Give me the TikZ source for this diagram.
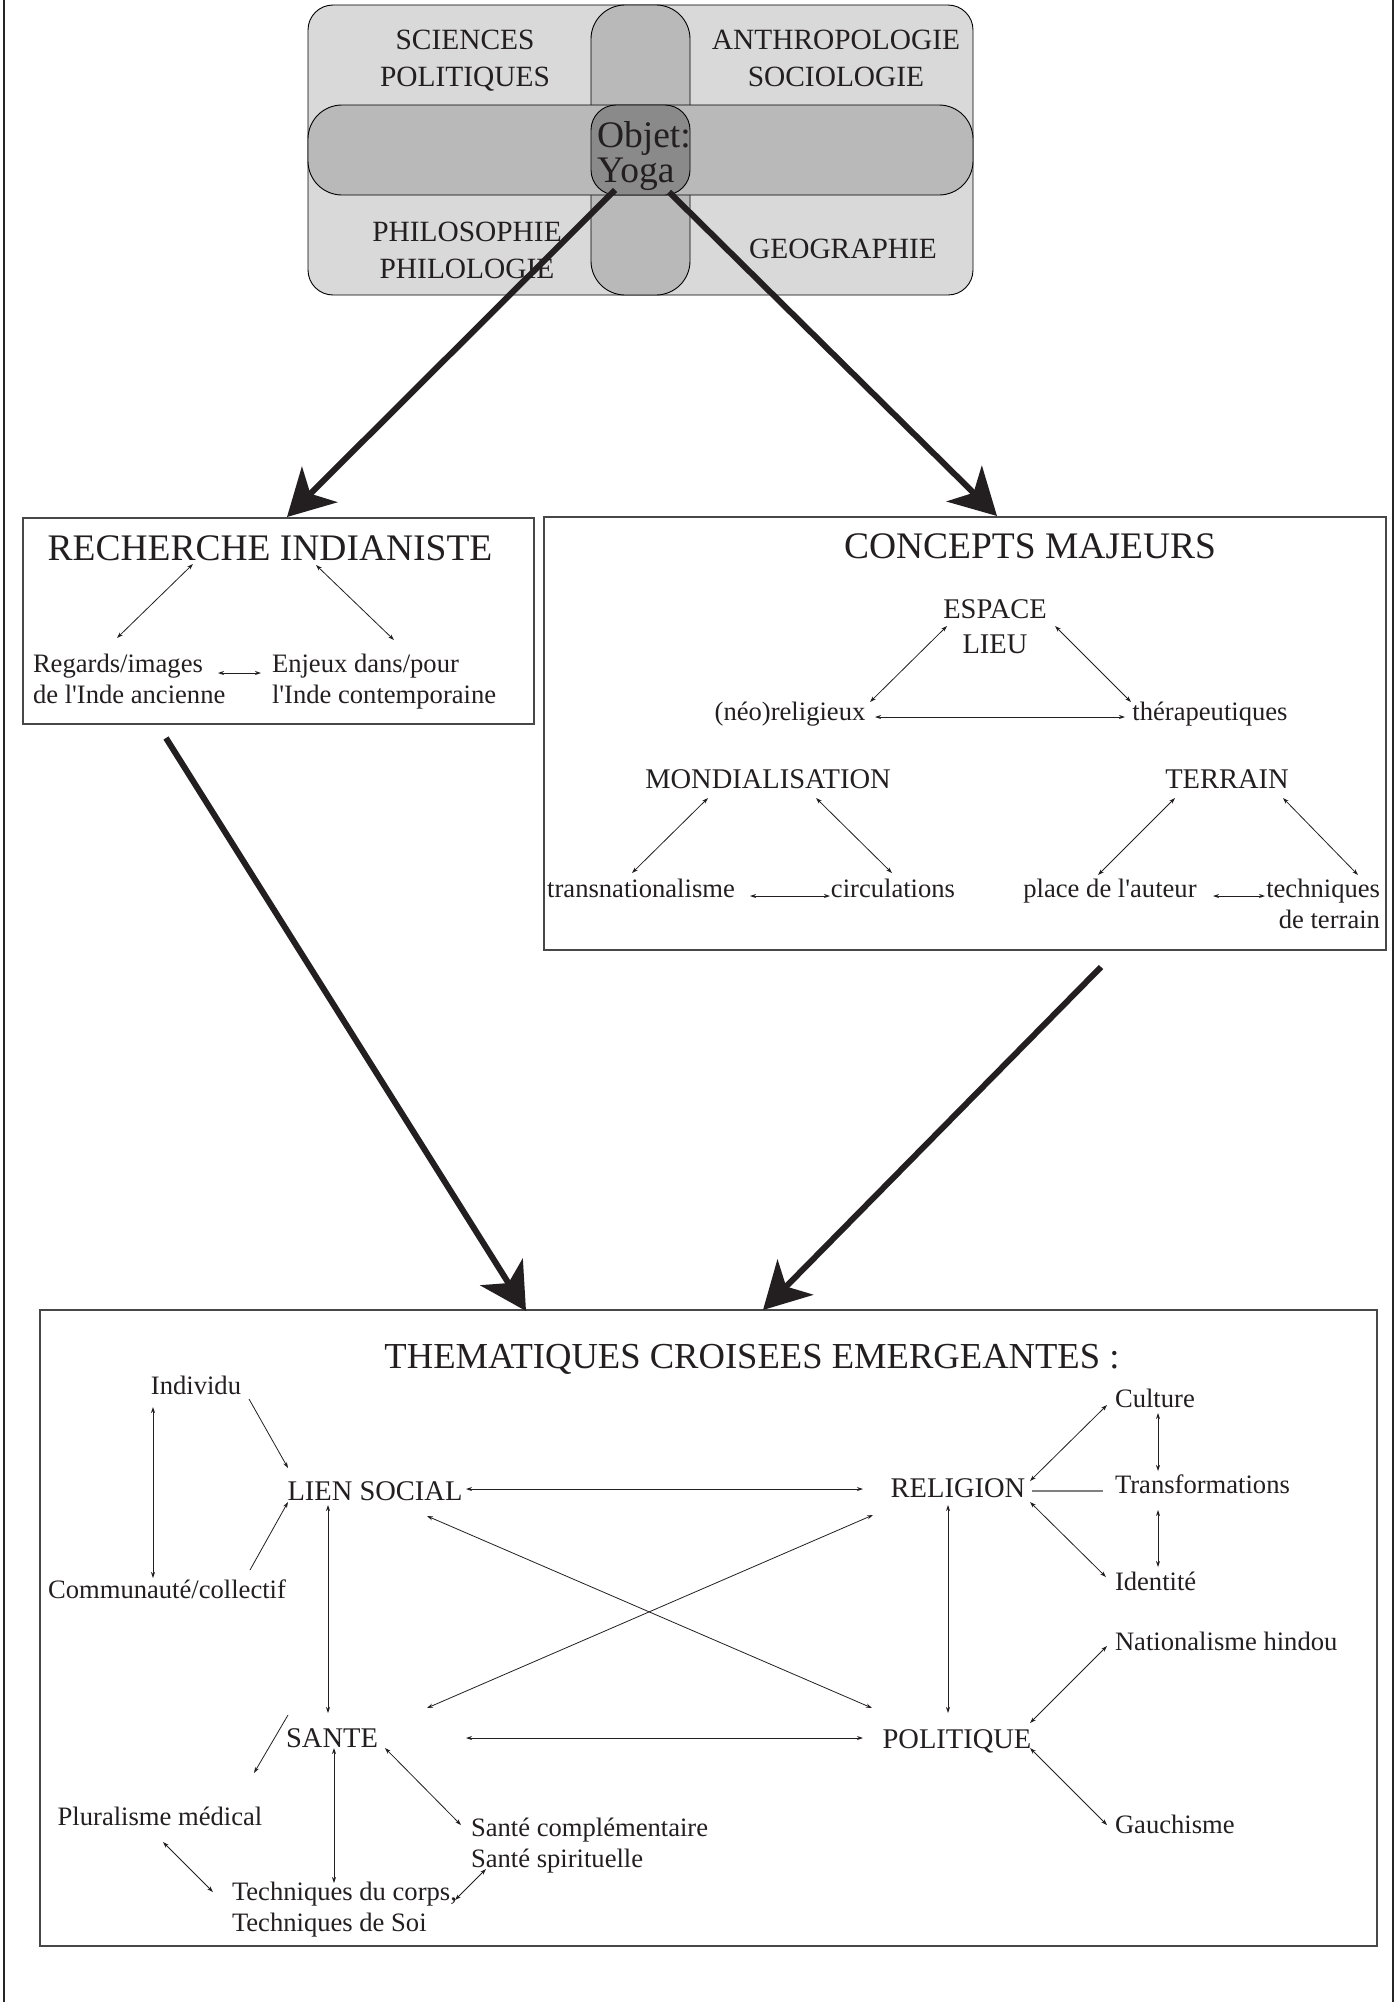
\documentclass[tikz,border=0pt]{standalone}
\usepackage{fontspec}
\setmainfont{Liberation Serif}
\usetikzlibrary{arrows.meta,calc}
\definecolor{ink}{HTML}{231F20}
\definecolor{vout}{HTML}{D9D9D9}
\definecolor{vband}{HTML}{B9B9B9}
\definecolor{vctr}{HTML}{8A8A8A}
\newcommand{\apos}{\textquotesingle}
\begin{document}
\begin{tikzpicture}[x=1pt,y=-1pt,
  txt/.style={inner sep=0pt, outer sep=0pt, text=ink},
  sm/.style={txt, font=\fontsize{26.6}{31}\selectfont},
  capt/.style={txt, font=\fontsize{28.5}{35}\selectfont},
  ven/.style={txt, font=\fontsize{29.4}{37}\selectfont, align=center},
  ttl/.style={txt, font=\fontsize{37.5}{40}\selectfont},
  framebox/.style={draw=black!72, line width=1.5pt, inner sep=0pt, anchor=north west},
  dbl/.style={line width=0.8pt, draw=ink, {Stealth[length=6pt,width=4pt]}-{Stealth[length=6pt,width=4pt]}},
  sgl/.style={line width=0.8pt, draw=ink, -{Stealth[length=6pt,width=4pt]}},
  bigarrow/.style={line width=6pt, draw=ink, -{Stealth[length=46pt,width=50pt,inset=13pt]}},
]
\useasboundingbox (0,0) rectangle (1397,2002);
\fill[white] (0,0) rectangle (1397,2002);
% page side lines
\draw[line width=2pt, black!85] (4,0) -- (4,2002);
\draw[line width=2pt, black!85] (1393,0) -- (1393,2002);

% ---------------- Venn block ----------------
\draw[fill=vout, line width=0.9pt, rounded corners=25pt] (308,5) rectangle (973,295);
\draw[fill=vband, line width=0.9pt, rounded corners=34pt] (591,5) rectangle (690,295);
\draw[fill=vband, line width=0.9pt, rounded corners=34pt] (308,105) rectangle (973,195);
\draw[fill=vctr, line width=0.9pt, rounded corners=25pt] (591,105) rectangle (690,195);

\node[ven, anchor=north] (sp) at (465,30) {SCIENCES\\POLITIQUES};
\node[ven, anchor=north] (as) at (836,30) {ANTHROPOLOGIE\\SOCIOLOGIE};
\node[ven, anchor=north] (pp) at (467,222) {PHILOSOPHIE\\PHILOLOGIE};
\node[ven, anchor=base] (geo) at (843,258) {GEOGRAPHIE};
\node[txt, font=\fontsize{37.5}{35}\selectfont, align=left, anchor=north west] (yoga) at (597,121) {Objet:\\Yoga};

% ---------------- Boxes ----------------
\node[framebox, minimum width=511pt, minimum height=206pt] (rb) at (22,517) {};
\node[framebox, minimum width=842pt, minimum height=433pt] (cb) at (543,516) {};
\node[framebox, minimum width=1337pt, minimum height=636pt] (tb) at (39,1309) {};

% ---------------- RECHERCHE INDIANISTE ----------------
\node[ttl, anchor=base] (ri) at (270,560) {RECHERCHE INDIANISTE};
\node[sm, align=left, anchor=north west] (reg) at (33,654) {Regards/images\\de l\apos Inde ancienne};
\node[sm, align=left, anchor=north west] (enj) at (272,654) {Enjeux dans/pour\\l\apos Inde contemporaine};
\path (193,564) coordinate (ria) (117,638) coordinate (rib)
      (316,565) coordinate (ric) (394,640) coordinate (rid)
      (218,673) coordinate (rie) (261,673) coordinate (rif);
\draw[dbl] (ria) -- (rib);
\draw[dbl] (ric) -- (rid);
\draw[dbl] (rie) -- (rif);

% ---------------- CONCEPTS MAJEURS ----------------
\node[ttl, anchor=base] (cm) at (1030,558) {CONCEPTS MAJEURS};
\node[capt, align=center, anchor=north] (esp) at (995,600) {ESPACE\\LIEU};
\node[sm, anchor=base] (neo) at (790,720) {(néo)religieux};
\node[sm, anchor=base] (ther) at (1210,720) {thérapeutiques};
\node[capt, anchor=base] (mond) at (768,788) {MONDIALISATION};
\node[capt, anchor=base] (terr) at (1227,788) {TERRAIN};
\node[sm, anchor=base] (trans) at (641,897) {transnationalisme};
\node[sm, anchor=base] (circ) at (893,897) {circulations};
\node[sm, anchor=base] (place) at (1110,897) {place de l\apos auteur};
\node[sm, align=right, anchor=north east] (tech) at (1380,879) {techniques\\de terrain};
\path (947,626) coordinate (e1) (870,702) coordinate (n1)
      (1055,626) coordinate (e2) (1131,702) coordinate (t1)
      (875,717) coordinate (n2) (1125,717) coordinate (t2)
      (708,798) coordinate (m1) (632,873) coordinate (tr1)
      (816,798) coordinate (m2) (892,873) coordinate (c1)
      (750,896) coordinate (tr2) (830,896) coordinate (c2)
      (1175,798) coordinate (te1) (1098,875) coordinate (p1)
      (1283,798) coordinate (te2) (1358,875) coordinate (tq1)
      (1213,896) coordinate (p2) (1265,896) coordinate (tq2);
\draw[dbl] (e1) -- (n1);
\draw[dbl] (e2) -- (t1);
\draw[dbl] (n2) -- (t2);
\draw[dbl] (m1) -- (tr1);
\draw[dbl] (m2) -- (c1);
\draw[dbl] (tr2) -- (c2);
\draw[dbl] (te1) -- (p1);
\draw[dbl] (te2) -- (tq1);
\draw[dbl] (p2) -- (tq2);

% ---------------- THEMATIQUES ----------------
\node[ttl, font=\fontsize{36.6}{40}\selectfont, anchor=base] (th) at (752,1368) {THEMATIQUES CROISEES EMERGEANTES :};
\node[sm, anchor=base] (ind) at (196,1394) {Individu};
\node[capt, anchor=base] (lien) at (375,1500) {LIEN SOCIAL};
\node[capt, anchor=base] (rel) at (958,1497) {RELIGION};
\node[sm, anchor=base west] (cult) at (1115,1407) {Culture};
\node[sm, anchor=base west] (trf) at (1115,1493) {Transformations};
\node[sm, anchor=base west] (ident) at (1115,1590) {Identité};
\node[sm, anchor=base] (comm) at (167,1598) {Communauté/collectif};
\node[sm, anchor=base west] (nat) at (1115,1650) {Nationalisme hindou};
\node[capt, anchor=base] (sante) at (332,1747) {SANTE};
\node[capt, anchor=base] (pol) at (957,1748) {POLITIQUE};
\node[sm, anchor=base] (plur) at (160,1825) {Pluralisme médical};
\node[sm, anchor=base west] (gau) at (1115,1833) {Gauchisme};
\node[sm, align=left, anchor=north west] (scomp) at (471,1818) {Santé complémentaire\\Santé spirituelle};
\node[sm, align=left, anchor=north west] (tcorps) at (232,1882) {Techniques du corps,\\Techniques de Soi};

\path (153,1407) coordinate (ia) (153,1578) coordinate (ca)
      (249,1399) coordinate (ib) (288,1468) coordinate (la)
      (250,1570) coordinate (cb2) (288,1502) coordinate (lb)
      (328,1505) coordinate (lc) (328,1713) coordinate (sa)
      (466,1489) coordinate (ld) (863,1489) coordinate (ra)
      (427,1516) coordinate (le) (872,1708) coordinate (pa)
      (427,1708) coordinate (sb) (873,1515) coordinate (rb2)
      (466,1738) coordinate (sc) (863,1738) coordinate (pb)
      (288,1715) coordinate (sd) (254,1773) coordinate (pla)
      (334,1748) coordinate (se) (334,1883) coordinate (ta)
      (385,1748) coordinate (sf) (461,1825) coordinate (sca)
      (163,1842) coordinate (plb) (213,1892) coordinate (tb2)
      (455,1900) coordinate (tc) (486,1869) coordinate (scb)
      (1030,1481) coordinate (rc) (1107,1405) coordinate (cua)
      (1158,1413) coordinate (cub) (1158,1471) coordinate (tfa)
      (1032,1491) coordinate (rd) (1103,1491) coordinate (tfb)
      (1158,1510) coordinate (tfc) (1158,1567) coordinate (ida)
      (1030,1502) coordinate (re) (1106,1577) coordinate (idb)
      (948,1505) coordinate (rf) (948,1713) coordinate (pc)
      (1030,1723) coordinate (pd) (1107,1646) coordinate (na)
      (1030,1748) coordinate (pe) (1107,1825) coordinate (ga);
\draw[dbl] (ia) -- (ca);
\draw[sgl] (ib) -- (la);
\draw[sgl] (cb2) -- (lb);
\draw[dbl] (lc) -- (sa);
\draw[dbl] (ld) -- (ra);
\draw[dbl] (le) -- (pa);
\draw[dbl] (sb) -- (rb2);
\draw[dbl] (sc) -- (pb);
\draw[sgl] (sd) -- (pla);
\draw[dbl] (se) -- (ta);
\draw[dbl] (sf) -- (sca);
\draw[dbl] (plb) -- (tb2);
\draw[dbl] (tc) -- (scb);
\draw[dbl] (rc) -- (cua);
\draw[dbl] (cub) -- (tfa);
\draw[line width=1.5pt, draw=black!50] (rd) -- (tfb);
\draw[dbl] (tfc) -- (ida);
\draw[dbl] (re) -- (idb);
\draw[dbl] (rf) -- (pc);
\draw[dbl] (pd) -- (na);
\draw[dbl] (pe) -- (ga);

% ---------------- Thick arrows ----------------
\path (615,190) coordinate (y1) (287,517) coordinate (rbt)
      (669,192) coordinate (y2) (997,516) coordinate (cbt)
      (166,738) coordinate (rbb) (526,1311) coordinate (tbt1)
      (1101,967) coordinate (cbb) (763,1310) coordinate (tbt2);
\draw[bigarrow] (y1) -- (rbt);
\draw[bigarrow] (y2) -- (cbt);
\draw[bigarrow] (rbb) -- (tbt1);
\draw[bigarrow] (cbb) -- (tbt2);
\end{tikzpicture}
\end{document}
